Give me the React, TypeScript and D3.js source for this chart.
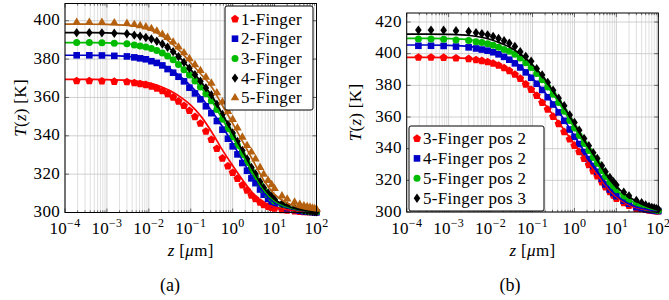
import React, { useEffect, useRef } from 'react';
import * as d3 from 'd3';

// marker positions along z [um] (shared by every series)
const zMarks = [0.00019, 0.00038, 0.00076, 0.0015, 0.003, 0.0045, 0.0062, 0.0085, 0.0115, 0.0155,
  0.021, 0.028, 0.038, 0.051, 0.069, 0.093, 0.126, 0.17, 0.23, 0.31,
  0.42, 0.57, 0.77, 1.0, 1.3, 1.7, 2.2, 2.8, 3.5, 4.5,
  5.5, 7, 8.5, 10, 15, 20, 30, 40, 50, 60,
  70, 80, 90, 100];

// z positions of the fitted (solid) curves
const zLine = [1e-4, 3.16e-4, 1e-3, 3.16e-3, 1e-2, 0.0178, 0.0316, 0.0562, 0.1, 0.178, 0.316, 0.562,
  1, 1.78, 3.16, 5.62, 10, 17.8, 31.6, 56.2, 100];

const xTickExps = [-4, -3, -2, -1, 0, 1, 2];
const leftYTicks = [300, 320, 340, 360, 380, 400];
const rightYTicks = [300, 320, 340, 360, 380, 400, 420];

const leftNames = ['1-Finger', '2-Finger', '3-Finger', '4-Finger', '5-Finger'];
const rightNames = ['3-Finger pos 2', '4-Finger pos 2', '5-Finger pos 2', '5-Finger pos 3'];

// (a) markers
const a1Marks = [368.6, 368.6, 368.5, 368.3, 368.1, 367.6, 367.1, 366.6, 365.8, 364.8,
  363.4, 361.9, 360.1, 358.0, 355.7, 353.1, 349.9, 346.5, 342.3, 338.0,
  333.3, 328.3, 324.2, 320.8, 317.7, 314.3, 311.6, 308.9, 307.1, 305.3,
  304.0, 303.1, 302.6, 302.1, 301.4, 301.1, 300.7, 300.5, 300.4, 300.4,
  300.3, 300.3, 300.2, 300.2];
const a2Marks = [382.0, 382.0, 381.9, 381.7, 381.4, 380.9, 380.4, 379.9, 378.9, 378.0,
  376.7, 374.8, 372.9, 370.8, 368.4, 365.1, 362.1, 359.0, 355.4, 351.8,
  347.7, 343.2, 338.5, 334.5, 330.3, 325.8, 321.8, 317.8, 315.3, 312.0,
  309.3, 307.1, 305.5, 304.2, 303.2, 302.2, 301.3, 300.9, 300.6, 300.5,
  300.3, 300.3, 300.2, 300.1];
const a3Marks = [388.6, 388.6, 388.5, 388.3, 388.0, 387.4, 386.8, 386.3, 385.5, 384.5,
  383.2, 381.6, 379.6, 377.2, 374.5, 371.7, 368.6, 365.5, 361.9, 358.3,
  353.7, 348.6, 343.7, 339.5, 335.1, 330.3, 326.1, 321.9, 318.6, 314.9,
  311.9, 309.3, 307.5, 306.0, 304.1, 303.0, 301.9, 301.5, 301.1, 300.8,
  300.7, 300.6, 300.5, 300.4];
const a4Marks = [393.8, 393.8, 393.7, 393.5, 393.2, 392.5, 391.9, 391.3, 390.5, 389.3,
  387.9, 386.2, 383.9, 381.3, 378.3, 375.2, 371.9, 368.5, 364.9, 361.3,
  356.4, 351.1, 345.9, 341.5, 337.1, 332.3, 327.9, 323.5, 320.1, 316.1,
  312.9, 310.2, 308.4, 306.8, 304.6, 303.4, 302.1, 301.6, 301.2, 300.9,
  300.8, 300.6, 300.5, 300.4];
const a5Marks = [399.2, 399.2, 399.1, 398.9, 398.6, 398.0, 397.4, 396.8, 395.9, 394.6,
  392.9, 391.3, 388.9, 386.3, 383.3, 380.2, 377.1, 374.0, 370.6, 367.4,
  362.4, 357.6, 352.7, 348.5, 344.1, 339.3, 334.9, 331.5, 327.9, 323.5,
  319.9, 316.7, 314.5, 312.5, 308.6, 307.0, 305.4, 304.2, 303.5, 303.0,
  302.6, 302.3, 302.0, 301.7];

// (a) fitted curves
const a1Line = [369.4, 369.4, 369.3, 368.9, 367.6, 366.0, 363.6, 360.3, 356.0, 350.0, 342.0, 332.8, 324.5, 316.6, 309.6, 305.0, 302.8, 301.6, 300.9, 300.5, 300.2];
const a2Line = [382.0, 382.0, 381.9, 381.4, 379.7, 377.8, 375.0, 371.0, 366.0, 360.0, 353.0, 345.0, 336.0, 326.5, 317.5, 310.0, 305.2, 302.8, 301.5, 300.8, 300.4];
const a3Line = [388.6, 388.6, 388.5, 388.0, 386.0, 384.0, 381.0, 376.5, 371.0, 365.0, 358.0, 349.0, 339.5, 329.5, 320.0, 311.5, 306.0, 303.3, 301.8, 300.9, 300.4];
const a4Line = [393.8, 393.8, 393.7, 393.2, 391.0, 388.8, 385.5, 380.5, 374.5, 368.0, 361.0, 351.5, 341.5, 331.5, 321.5, 312.5, 306.8, 303.8, 302.0, 301.0, 300.4];
const a5Line = [398.2, 398.2, 398.1, 397.6, 395.5, 393.0, 389.0, 384.0, 378.0, 372.0, 365.5, 356.0, 346.5, 336.5, 326.5, 316.5, 309.5, 305.5, 303.2, 301.8, 300.8];

// (b) markers
const b1Marks = [397.7, 397.7, 397.6, 397.2, 396.8, 396.1, 395.5, 394.8, 393.9, 392.6,
  391.0, 389.2, 386.9, 384.3, 380.7, 377.3, 373.5, 369.1, 364.8, 360.3,
  355.7, 350.6, 346.0, 342.0, 338.0, 333.7, 329.8, 325.8, 322.6, 318.9,
  315.8, 312.7, 310.5, 308.5, 305.8, 304.0, 302.2, 302.0, 301.5, 301.1,
  300.9, 300.8, 300.6, 300.5];
const b2Marks = [405.0, 405.0, 404.9, 404.5, 404.0, 403.3, 402.6, 401.9, 400.9, 399.6,
  398.0, 396.2, 393.9, 391.3, 388.2, 384.8, 381.0, 377.1, 372.5, 367.9,
  362.9, 357.6, 352.1, 347.5, 342.9, 337.8, 333.4, 329.0, 325.4, 321.0,
  317.4, 314.2, 312.0, 310.0, 307.1, 305.2, 303.1, 302.4, 301.8, 301.4,
  301.2, 301.0, 300.8, 300.6];
const b3Marks = [409.2, 409.2, 409.1, 408.7, 408.3, 407.6, 407.0, 406.3, 405.4, 404.1,
  402.7, 401.6, 399.6, 397.2, 394.3, 391.2, 387.5, 383.6, 379.0, 374.4,
  369.2, 363.6, 357.8, 353.0, 348.4, 343.3, 338.9, 334.5, 330.8, 326.2,
  322.4, 318.8, 316.2, 314.0, 310.0, 307.8, 305.3, 304.0, 303.0, 302.3,
  301.9, 301.6, 301.3, 301.0];
const b4Marks = [414.9, 414.9, 414.8, 414.5, 414.0, 413.3, 412.6, 411.9, 410.9, 409.6,
  408.2, 406.6, 404.6, 401.2, 398.3, 395.2, 390.5, 386.6, 381.8, 376.9,
  371.9, 367.1, 361.3, 356.5, 351.7, 346.4, 341.9, 337.5, 333.8, 329.2,
  325.4, 321.8, 319.2, 317.0, 312.5, 310.2, 307.3, 305.9, 304.4, 303.5,
  302.9, 302.5, 302.1, 301.7];

// (b) fitted curves
const b1Line = [397.7, 397.7, 397.5, 396.8, 394.5, 392.0, 388.5, 383.5, 377.0, 369.5, 361.0, 352.0, 343.0, 334.0, 325.0, 316.5, 309.5, 305.0, 302.5, 301.2, 300.5];
const b2Line = [405.5, 405.5, 405.3, 404.5, 402.0, 399.5, 396.0, 391.0, 384.5, 377.0, 368.0, 358.5, 348.0, 337.5, 327.5, 317.5, 310.5, 305.8, 303.0, 301.5, 300.6];
const b3Line = [409.7, 409.7, 409.5, 408.8, 406.5, 404.0, 401.0, 396.5, 390.5, 383.0, 374.0, 364.0, 353.0, 342.5, 332.5, 322.0, 314.0, 308.5, 305.0, 302.5, 301.0];
const b4Line = [412.4, 412.4, 412.2, 411.5, 409.0, 406.5, 403.5, 399.0, 393.0, 385.5, 376.0, 366.5, 355.5, 344.5, 334.5, 324.0, 316.0, 310.5, 306.5, 303.3, 301.2];

const RED = '#ff0000';
const BLUE = '#0000c8';
const GREEN = '#00bb00';
const BLACK = '#000000';
const BROWN = '#b5600f';

const FONT = "'Liberation Serif', 'DejaVu Serif', 'Noto Serif', Tinos, 'Times New Roman', Times, serif";
const FS = '17px';
const LS = '0.3px';

type Shape = 'pentagon' | 'square' | 'circle' | 'diamond' | 'triangle';

interface Series {
  name: string;
  color: string;
  shape: Shape;
  marks: number[];
  line: number[];
}

interface Panel {
  left: number;
  right: number;
  top: number;
  bottom: number;
  tMax: number;
  yTicks: number[];
  series: Series[];
  legend: { x: number; y: number; w: number; h: number; row0: number; step: number; markX: number };
  caption: string;
  captionX: number;
  yLabelX: number;
}

function markerPath(shape: Shape): string {
  switch (shape) {
    case 'pentagon': {
      const r = 4.2;
      const pts = d3.range(5).map(k => {
        const a = -Math.PI / 2 + (k * 2 * Math.PI) / 5;
        return `${(r * Math.cos(a)).toFixed(2)},${(r * Math.sin(a)).toFixed(2)}`;
      });
      return 'M' + pts.join('L') + 'Z';
    }
    case 'square':
      return 'M-3.3,-3.3H3.3V3.3H-3.3Z';
    case 'circle':
      return d3.symbol(d3.symbolCircle, Math.PI * 3.5 * 3.5)() as string;
    case 'diamond':
      return 'M0,-4.7L3.3,0L0,4.7L-3.3,0Z';
    case 'triangle':
      return 'M0,-4.9L4.3,2.5L-4.3,2.5Z';
  }
}

const shapes: Shape[] = ['pentagon', 'square', 'circle', 'diamond', 'triangle'];

const panels: Panel[] = [
  {
    left: 65, right: 316.5, top: 3.5, bottom: 212.5, tMax: 409,
    yTicks: leftYTicks,
    series: [a1Marks, a2Marks, a3Marks, a4Marks, a5Marks].map((m, i) => ({
      name: leftNames[i],
      color: [RED, BLUE, GREEN, BLACK, BROWN][i],
      shape: shapes[i],
      marks: m,
      line: [a1Line, a2Line, a3Line, a4Line, a5Line][i],
    })),
    legend: { x: 225, y: 6, w: 88, h: 104, row0: 19, step: 19.7, markX: 235 },
    caption: '(a)', captionX: 170, yLabelX: 26,
  },
  {
    left: 406.7, right: 658.3, top: 13, bottom: 212, tMax: 425.7,
    yTicks: rightYTicks,
    series: [b1Marks, b2Marks, b3Marks, b4Marks].map((m, i) => ({
      name: rightNames[i],
      color: [RED, BLUE, GREEN, BLACK][i],
      shape: shapes[i],
      marks: m,
      line: [b1Line, b2Line, b3Line, b4Line][i],
    })),
    legend: { x: 409, y: 126, w: 135, h: 85, row0: 138.5, step: 19.9, markX: 417 },
    caption: '(b)', captionX: 510, yLabelX: 361,
  },
];

function drawPanel(svg: d3.Selection<SVGSVGElement, unknown, null, undefined>, p: Panel, idx: number) {
  const x = d3.scaleLog().domain([1e-4, 1e2]).range([p.left, p.right]);
  const y = d3.scaleLinear().domain([300, p.tMax]).range([p.bottom, p.top]);
  const g = svg.append('g');

  const clipId = `clip${idx}`;
  g.append('clipPath').attr('id', clipId)
    .append('rect')
    .attr('x', p.left).attr('y', p.top)
    .attr('width', p.right - p.left).attr('height', p.bottom - p.top);

  const minorZ: number[] = [];
  xTickExps.slice(0, -1).forEach(e => {
    for (let k = 2; k <= 9; k++) minorZ.push(k * Math.pow(10, e));
  });
  const majorZ = xTickExps.map(e => Math.pow(10, e));

  // grid
  g.append('g').selectAll('line').data(minorZ).join('line')
    .attr('x1', d => x(d)).attr('x2', d => x(d))
    .attr('y1', p.top).attr('y2', p.bottom)
    .attr('stroke', '#d2d2d2').attr('stroke-width', 0.7);
  g.append('g').selectAll('line').data(majorZ).join('line')
    .attr('x1', d => x(d)).attr('x2', d => x(d))
    .attr('y1', p.top).attr('y2', p.bottom)
    .attr('stroke', '#c4c4c4').attr('stroke-width', 0.8);
  g.append('g').selectAll('line').data(p.yTicks).join('line')
    .attr('x1', p.left).attr('x2', p.right)
    .attr('y1', d => y(d)).attr('y2', d => y(d))
    .attr('stroke', '#c4c4c4').attr('stroke-width', 0.8);

  // inward ticks
  const ticks = g.append('g').attr('stroke', '#333').attr('stroke-width', 0.7);
  [p.bottom, p.top].forEach((yy, side) => {
    const dir = side === 0 ? -1 : 1;
    ticks.append('g').selectAll('line').data(majorZ).join('line')
      .attr('x1', d => x(d)).attr('x2', d => x(d))
      .attr('y1', yy).attr('y2', yy + dir * 4);
    ticks.append('g').selectAll('line').data(minorZ).join('line')
      .attr('x1', d => x(d)).attr('x2', d => x(d))
      .attr('y1', yy).attr('y2', yy + dir * 2.2);
  });
  [p.left, p.right].forEach((xx, side) => {
    const dir = side === 0 ? 1 : -1;
    ticks.append('g').selectAll('line').data(p.yTicks).join('line')
      .attr('x1', xx).attr('x2', xx + dir * 4)
      .attr('y1', d => y(d)).attr('y2', d => y(d));
  });

  // markers
  p.series.forEach(s => {
    g.append('g').selectAll('path').data(s.marks).join('path')
      .attr('d', markerPath(s.shape))
      .attr('transform', (d, i) => `translate(${x(zMarks[i])},${y(d)})`)
      .attr('fill', s.color);
  });

  // fitted curves
  const line = d3.line<number>()
    .x((d, i) => x(zLine[i]))
    .y(d => y(d))
    .curve(d3.curveMonotoneX);
  p.series.forEach(s => {
    g.append('path')
      .attr('d', line(s.line) || '')
      .attr('fill', 'none')
      .attr('stroke', s.color)
      .attr('stroke-width', 1.7)
      .attr('clip-path', `url(#${clipId})`);
  });

  // axis box
  g.append('rect')
    .attr('x', p.left).attr('y', p.top)
    .attr('width', p.right - p.left).attr('height', p.bottom - p.top)
    .attr('fill', 'none').attr('stroke', '#000').attr('stroke-width', 1);

  // y tick labels
  g.append('g').selectAll('text').data(p.yTicks).join('text')
    .attr('x', p.left - 5).attr('y', d => y(d) + 4.5)
    .attr('text-anchor', 'end')
    .attr('font-family', FONT).attr('font-size', FS).style('letter-spacing', LS)
    .text(d => d);

  // x tick labels
  const xt = g.append('g').selectAll('text').data(xTickExps).join('text')
    .attr('x', e => x(Math.pow(10, e))).attr('y', 233.5)
    .attr('text-anchor', 'middle')
    .attr('font-family', FONT).attr('font-size', FS).style('letter-spacing', LS);
  xt.append('tspan').text('10');
  xt.append('tspan').attr('dy', -6.5).attr('font-size', '12px')
    .text(e => (e < 0 ? `\u2212${-e}` : `${e}`));

  // axis labels
  const xl = g.append('text')
    .attr('x', (p.left + p.right) / 2).attr('y', 256)
    .attr('text-anchor', 'middle')
    .attr('font-family', FONT).attr('font-size', FS).style('letter-spacing', LS);
  xl.append('tspan').attr('font-style', 'italic').text('z');
  xl.append('tspan').text(' [');
  xl.append('tspan').attr('font-style', 'italic').text('\u03bc');
  xl.append('tspan').text('m]');

  const yl = g.append('text')
    .attr('transform', `translate(${p.yLabelX},${(p.top + p.bottom) / 2}) rotate(-90)`)
    .attr('text-anchor', 'middle')
    .attr('font-family', FONT).attr('font-size', FS).style('letter-spacing', LS);
  yl.append('tspan').attr('font-style', 'italic').text('T');
  yl.append('tspan').text('(');
  yl.append('tspan').attr('font-style', 'italic').text('z');
  yl.append('tspan').text(') [K]');

  // legend
  const L = p.legend;
  const lg = g.append('g');
  lg.append('rect')
    .attr('x', L.x).attr('y', L.y).attr('width', L.w).attr('height', L.h)
    .attr('rx', 2).attr('fill', '#fff').attr('stroke', '#000').attr('stroke-width', 1);
  p.series.forEach((s, i) => {
    const ry = L.row0 + i * L.step;
    lg.append('path')
      .attr('d', markerPath(s.shape))
      .attr('transform', `translate(${L.markX},${ry})`)
      .attr('fill', s.color);
    lg.append('text')
      .attr('x', L.markX + 6).attr('y', ry + 5.5)
      .attr('font-family', FONT).attr('font-size', FS).style('letter-spacing', LS)
      .text(s.name);
  });

  // caption
  svg.append('text')
    .attr('x', p.captionX).attr('y', 291)
    .attr('text-anchor', 'middle')
    .attr('font-family', FONT).attr('font-size', '18px')
    .text(p.caption);
}

const App: React.FC = () => {
  const svgRef = useRef<SVGSVGElement>(null);

  useEffect(() => {
    if (!svgRef.current) return;
    const svg = d3.select(svgRef.current);
    svg.selectAll('*').remove();
    panels.forEach((p, i) => drawPanel(svg, p, i));
  }, []);

  return (
    <svg
      ref={svgRef}
      width={669}
      height={300}
      style={{ position: 'absolute', left: 0, top: 0, background: '#fff' }}
    />
  );
};

export default App;
